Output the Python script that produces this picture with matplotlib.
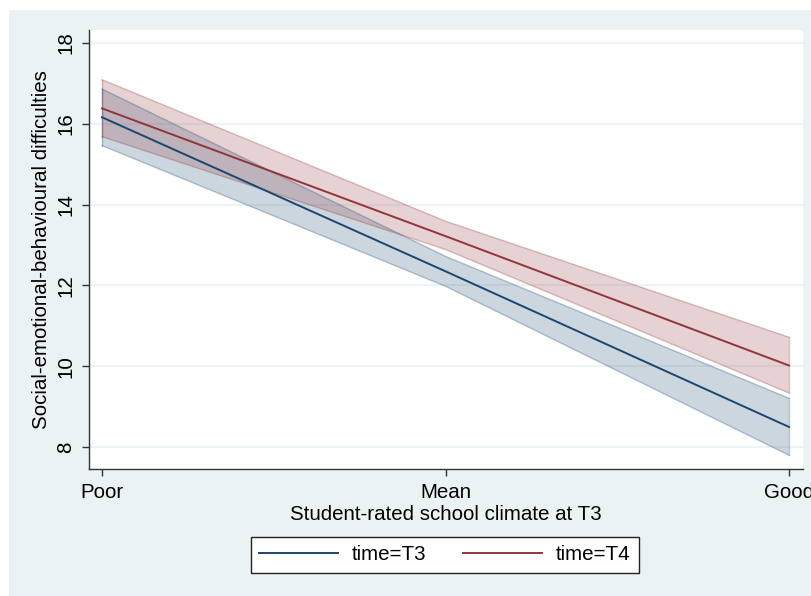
import matplotlib
matplotlib.use('Agg')
import matplotlib.pyplot as plt
from matplotlib.patches import Rectangle
import numpy as np

plt.rcParams['font.family'] = ['Liberation Sans', 'DejaVu Sans']

# ---------------------------------------------------------------------------
# Data (predictive margins with 95% CI)
# ---------------------------------------------------------------------------
climate_labels = ['Poor', 'Mean', 'Good']
climate_pos = [-1, 0, 1]

t3_fit = [16.16, 12.35, 8.50]
t3_lo = [15.46, 11.98, 7.80]
t3_hi = [16.86, 12.72, 9.21]

t4_fit = [16.38, 13.22, 10.02]
t4_lo = [15.68, 12.89, 9.34]
t4_hi = [17.09, 13.59, 10.72]

y_ticks = [8, 10, 12, 14, 16, 18]

# ---------------------------------------------------------------------------
# Plot
# ---------------------------------------------------------------------------
bg = '#EAF2F3'
c_t3 = '#1A476F'
c_t4 = '#90353B'
fs = 14.8

fig = plt.figure(figsize=(8.12, 5.96), dpi=100, facecolor='white')
fig.patches.append(Rectangle((9 / 812, 0), 1, 586 / 596, transform=fig.transFigure,
                             facecolor=bg, edgecolor='none', zorder=-10))
ax = fig.add_axes([0.1096, 0.2131, 0.8794, 0.7366])
ax.set_facecolor('white')

ax.fill_between(climate_pos, t3_lo, t3_hi, facecolor=c_t3, alpha=0.22,
                edgecolor='none', zorder=2)
ax.fill_between(climate_pos, t4_lo, t4_hi, facecolor=c_t4, alpha=0.22,
                edgecolor='none', zorder=2)
for lo, hi, c in [(t3_lo, t3_hi, c_t3), (t4_lo, t4_hi, c_t4)]:
    ax.plot(climate_pos, lo, color=c, alpha=0.3, lw=1, zorder=3)
    ax.plot(climate_pos, hi, color=c, alpha=0.3, lw=1, zorder=3)
    ax.plot([climate_pos[0]] * 2, [lo[0], hi[0]], color=c, alpha=0.3, lw=1, zorder=3)
    ax.plot([climate_pos[-1]] * 2, [lo[-1], hi[-1]], color=c, alpha=0.3, lw=1, zorder=3)

l3, = ax.plot(climate_pos, t3_fit, color=c_t3, lw=1.4, zorder=4, label='time=T3')
l4, = ax.plot(climate_pos, t4_fit, color=c_t4, lw=1.4, zorder=4, label='time=T4')

ax.set_xlim(-1.038, 1.041)
ax.set_ylim(7.46, 18.32)
ax.set_xticks(climate_pos)
ax.set_xticklabels(climate_labels)
ax.set_yticks(y_ticks)
ax.set_yticklabels([str(t) for t in y_ticks], rotation=90, va='center')
ax.tick_params(axis='both', labelsize=fs, length=5, width=1, color='#333333',
               direction='out', pad=5)

ax.yaxis.grid(True, color='#EAF2F3', lw=1.2, zorder=0)
ax.set_axisbelow(True)
for s in ['top', 'right']:
    ax.spines[s].set_visible(False)
for s in ['left', 'bottom']:
    ax.spines[s].set_color('#333333')
    ax.spines[s].set_linewidth(1)

ax.set_xlabel('Student-rated school climate at T3', fontsize=fs, labelpad=2)
ax.set_ylabel('Social-emotional-behavioural difficulties', fontsize=fs, labelpad=4)

leg = fig.legend(handles=[l3, l4], loc='center', bbox_to_anchor=(445 / 812, 0.069),
                 ncol=2, fontsize=fs, frameon=True, fancybox=False,
                 handlelength=3.8, handletextpad=0.7, columnspacing=1.8,
                 borderpad=0.4, edgecolor='#222222', framealpha=1)
leg.get_frame().set_linewidth(1)

fig.savefig('out.png', dpi=100, facecolor='white')
plt.close(fig)
